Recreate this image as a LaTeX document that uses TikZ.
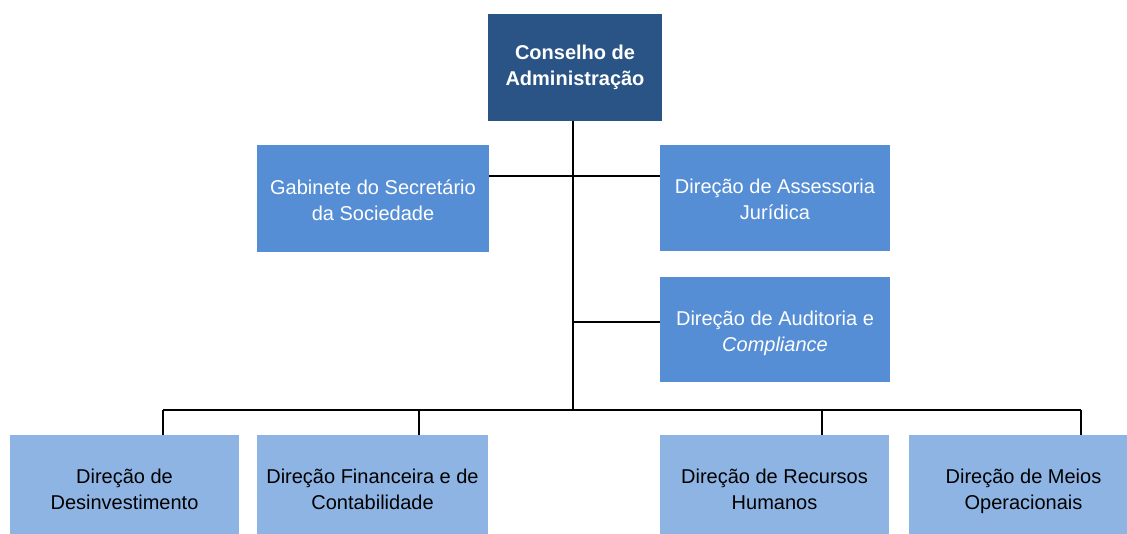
\documentclass[tikz,border=0pt]{standalone}
\usepackage{fontspec}
\setmainfont{Liberation Sans}
\definecolor{topblue}{HTML}{2A5386}
\definecolor{midblue}{HTML}{558ED5}
\definecolor{lowblue}{HTML}{8EB4E3}
\newcommand{\toplines}[2]{\strut #1\strut\\\strut #2\strut}
\newcommand{\twolines}[2]{\rule{0pt}{25pt}#1\strut\\\strut #2\strut}
\begin{document}
\begin{tikzpicture}[x=1pt,y=-1pt,
  orgbox/.style={draw=none, inner sep=0pt, align=center, font=\fontsize{20}{26}\selectfont},
  topbox/.style={orgbox, fill=topblue, text=white, font=\fontsize{20}{26}\selectfont\bfseries, minimum width=174pt, minimum height=107pt},
  midbox/.style={orgbox, fill=midblue, text=white, minimum width=230pt, minimum height=106pt},
  lowbox/.style={orgbox, fill=lowblue, text=black, minimum width=229pt, minimum height=106pt},
  link/.style={draw=black, line width=1.5pt}]
\useasboundingbox (0,0) rectangle (1127,534);
\node[topbox] (ca) at (575,67.5) {\toplines{Conselho de}{Administração}};
\node[midbox, minimum width=232pt, minimum height=107pt] (gab) at (373,198.5) {\twolines{Gabinete do Secretário}{da Sociedade}};
\node[midbox] (ass) at (775,198) {\twolines{Direção de Assessoria}{Jurídica}};
\node[midbox, minimum height=105pt] (aud) at (775,329.5) {\twolines{Direção de Auditoria e}{\textit{Compliance}}};
\node[lowbox] (des) at (124.5,488) {\twolines{Direção de}{Desinvestimento}};
\node[lowbox, minimum width=231pt] (fin) at (372.5,488) {\twolines{Direção Financeira e de}{Contabilidade}};
\node[lowbox] (rh) at (774.5,488) {\twolines{Direção de Recursos}{Humanos}};
\node[lowbox] (mei) at (1023.5,488) {\twolines{Direção de Meios}{Operacionais}};
\coordinate (hub) at (573,410);
\coordinate (b1) at (163,410);
\coordinate (b2) at (419,410);
\coordinate (b3) at (822,410);
\coordinate (b4) at (1081,410);
\draw[link] ([xshift=-2pt]ca.south) -- (hub);
\draw[link] ([yshift=22.5pt]gab.east) -- ([yshift=22pt]ass.west);
\draw[link] ([yshift=7.5pt]aud.west) -- ([yshift=7.5pt]aud.west -| hub);
\draw[link] (b1) -- (b4);
\draw[link] (b1) -- (b1 |- des.north);
\draw[link] (b2) -- (b2 |- fin.north);
\draw[link] (b3) -- (b3 |- rh.north);
\draw[link] (b4) -- (b4 |- mei.north);
\end{tikzpicture}
\end{document}
